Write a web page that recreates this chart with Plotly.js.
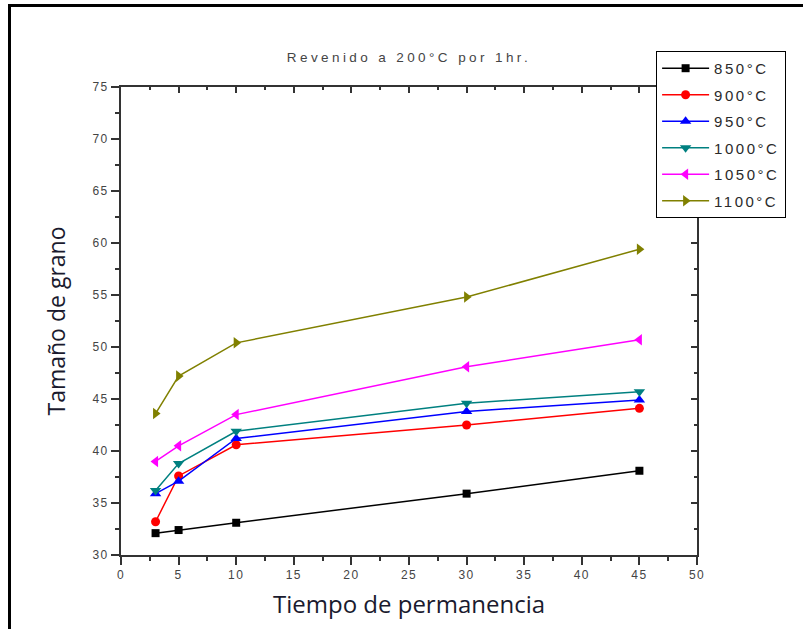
<!DOCTYPE html>
<html>
<head>
<meta charset="utf-8">
<script src="https://cdn.plot.ly/plotly-3.0.1.min.js"></script>
<style>
html,body{margin:0;padding:0;background:#fff;}
#wrap{position:relative;width:803px;height:629px;overflow:hidden;}
#chart{position:absolute;left:0;top:0;width:803px;height:629px;}
#frame{position:absolute;left:8px;top:4px;width:900px;height:700px;border-left:3px solid #000;border-top:3px solid #000;pointer-events:none;z-index:10;}
.gtitle{letter-spacing:3.4px;}
.legendtext{letter-spacing:2.5px;}
.xtick text, .ytick text{letter-spacing:1.4px;}
</style>
</head>
<body>
<div id="wrap"><div id="chart"></div><div id="frame"></div></div>
<script>
const times = [3, 5, 10, 30, 45];
const seriesNames = ["850°C", "900°C", "950°C", "1000°C", "1050°C", "1100°C"];
const t850  = [32.1, 32.4, 33.1, 35.9, 38.1];
const t900  = [33.2, 37.6, 40.6, 42.5, 44.1];
const t950  = [35.9, 37.1, 41.2, 43.8, 44.9];
const t1000 = [36.2, 38.8, 41.9, 44.6, 45.7];
const t1050 = [39.0, 40.5, 43.5, 48.1, 50.7];
const t1100 = [43.6, 47.2, 50.4, 54.8, 59.4];
const xTicks = [0,5,10,15,20,25,30,35,40,45,50];
const yTicks = [30,35,40,45,50,55,60,65,70,75];

const values = [t850, t900, t950, t1000, t1050, t1100];
const colors = ["#000000", "#ff0000", "#0000ff", "#008080", "#ff00ff", "#808000"];
const symbols = ["square", "circle", "triangle-up", "triangle-down", "triangle-left", "triangle-right"];
const sizes = [8, 9, 10, 10, 10, 10];

const traces = values.map((v, i) => ({
  x: times, y: v, name: seriesNames[i], type: "scatter", mode: "lines+markers",
  legendgroup: "g" + i,
  line: {color: colors[i], width: 1.5},
  marker: {color: colors[i], symbol: symbols[i], size: sizes[i]}
}));
traces.push({x: [null], y: [null], xaxis: "x2", yaxis: "y2", showlegend: false, hoverinfo: "skip", type: "scatter"});

const tickFont = {family: "Liberation Sans, Arial, sans-serif", size: 12, color: "#444"};
const layout = {
  width: 803, height: 629,
  margin: {l: 121, r: 106, t: 87, b: 74},
  paper_bgcolor: "#fff", plot_bgcolor: "#fff",
  title: {text: "Revenido a 200°C por 1hr.", x: 0.5, xref: "paper", xanchor: "center", y: 1 - 57/629, yanchor: "middle",
          font: {family: "Liberation Sans, Arial, sans-serif", size: 13.5, color: "#444"}},
  showlegend: true,
  legend: {x: 0.929, xanchor: "left", y: 1.077, yanchor: "top", bgcolor: "#fff", bordercolor: "#000", borderwidth: 1,
           font: {family: "Liberation Sans, Arial, sans-serif", size: 15, color: "#2a2a2a"},
           tracegroupgap: 4, itemwidth: 47},
  xaxis: {range: [0, 50], tickvals: xTicks, ticktext: xTicks.map(String), showgrid: false, zeroline: false,
          showline: true, linecolor: "#333", linewidth: 2, ticks: "outside", ticklen: 8, tickwidth: 2, tickcolor: "#333",
          minor: {dtick: 2.5, tick0: 0, ticks: "outside", ticklen: 4, tickwidth: 2, tickcolor: "#333"},
          tickfont: tickFont,
          title: {text: "Tiempo de permanencia", font: {family: "Open Sans, sans-serif", size: 24, color: "#1a1a2e"}, standoff: 15}},
  yaxis: {range: [30, 75], tickvals: yTicks, ticktext: yTicks.map(String), showgrid: false, zeroline: false,
          showline: true, linecolor: "#333", linewidth: 2, ticks: "outside", ticklen: 8, tickwidth: 2, tickcolor: "#333",
          minor: {dtick: 2.5, tick0: 30, ticks: "outside", ticklen: 4, tickwidth: 2, tickcolor: "#333"},
          tickfont: tickFont,
          title: {text: "Tamaño de grano", font: {family: "Open Sans, sans-serif", size: 23, color: "#1a1a2e"}, standoff: 20}},
  xaxis2: {overlaying: "x", side: "top", range: [0, 50], showgrid: false, zeroline: false, showticklabels: false,
           showline: true, linecolor: "#333", linewidth: 2, ticks: "inside", ticklen: 6, tickwidth: 2, tickcolor: "#333",
           tickvals: xTicks,
           minor: {dtick: 2.5, tick0: 0, ticks: "inside", ticklen: 3, tickwidth: 2, tickcolor: "#333"}},
  yaxis2: {overlaying: "y", side: "right", range: [30, 75], showgrid: false, zeroline: false, showticklabels: false,
           showline: true, linecolor: "#333", linewidth: 2, ticks: "inside", ticklen: 6, tickwidth: 2, tickcolor: "#333",
           tickvals: yTicks,
           minor: {dtick: 2.5, tick0: 30, ticks: "inside", ticklen: 3, tickwidth: 2, tickcolor: "#333"}}
};
Plotly.newPlot("chart", traces, layout, {displayModeBar: false, staticPlot: true});
</script>
</body>
</html>
